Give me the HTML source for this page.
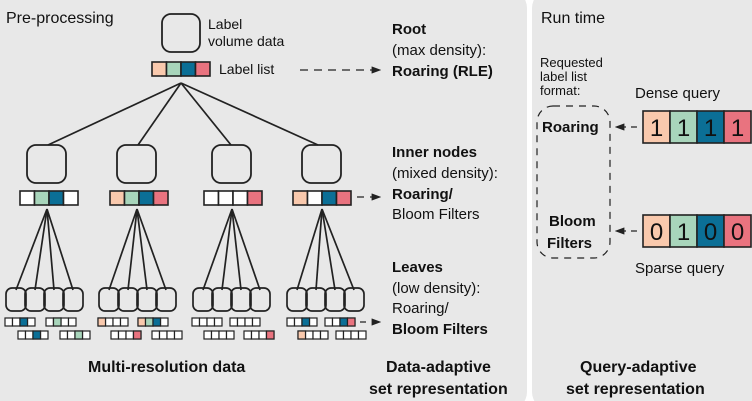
<!DOCTYPE html>
<html><head><meta charset="utf-8"><style>
html,body{margin:0;padding:0;background:#fff;}
svg{display:block;font-family:"Liberation Sans","DejaVu Sans",sans-serif;}
.t{font-size:15px;fill:#111;}
.b{font-weight:bold;}
</style></head><body>
<svg width="752" height="401" viewBox="0 0 752 401" xmlns="http://www.w3.org/2000/svg">
<defs>
<g id="leaf" fill="none" stroke="#222" stroke-width="1.7">
<rect x="0" y="0" width="20" height="23" rx="6"/>
<rect x="19" y="0" width="20" height="23" rx="6"/>
<rect x="38" y="0" width="20" height="23" rx="6"/>
<rect x="57" y="0" width="20" height="23" rx="6"/>
</g>
<g id="sb" fill="#fff" stroke="#222" stroke-width="1.2">
<rect x="0" y="0" width="7.5" height="8"/><rect x="7.5" y="0" width="7.5" height="8"/><rect x="15" y="0" width="7.5" height="8"/><rect x="22.5" y="0" width="7.5" height="8"/>
</g>
<marker id="ah" markerWidth="8" markerHeight="6" refX="7" refY="3" orient="auto"><path d="M0,0 L8,3 L0,6 z" fill="#222"/></marker>
</defs>
<rect x="-10" y="-10" width="537" height="420" rx="18" fill="#e8e8e8"/>
<rect x="532" y="-10" width="230" height="420" rx="18" fill="#e8e8e8"/>

<text x="6" y="23" class="t" style="font-size:16px">Pre-processing</text>
<text x="541" y="23" class="t" style="font-size:16px">Run time</text>

<rect x="162" y="14" width="38" height="38" rx="9" fill="none" stroke="#222" stroke-width="1.8"/>
<text x="208" y="29" class="t" style="font-size:14px">Label</text>
<text x="208" y="46" class="t" style="font-size:14px">volume data</text>
<g stroke="#222" stroke-width="1.6">
<rect x="152" y="62" width="14.5" height="14" fill="#f9c9ad"/><rect x="166.5" y="62" width="14.5" height="14" fill="#a8d5bb"/><rect x="181" y="62" width="14.5" height="14" fill="#0b6f96"/><rect x="195.5" y="62" width="14.5" height="14" fill="#e9737f"/>
</g>
<text x="219" y="74" class="t" style="font-size:14px">Label list</text>
<line x1="300" y1="70" x2="380" y2="70" stroke="#222" stroke-width="1.2" stroke-dasharray="8,6" marker-end="url(#ah)"/>

<g stroke="#222" stroke-width="1.7">
<line x1="181" y1="83" x2="48" y2="145"/><line x1="181" y1="83" x2="138" y2="145"/><line x1="181" y1="83" x2="231" y2="145"/><line x1="181" y1="83" x2="318" y2="145"/>
</g>
<g fill="none" stroke="#222" stroke-width="1.8">
<rect x="27" y="145" width="39" height="38" rx="9"/><rect x="117" y="145" width="39" height="38" rx="9"/><rect x="212" y="145" width="39" height="38" rx="9"/><rect x="302" y="145" width="39" height="38" rx="9"/>
</g>
<g stroke="#222" stroke-width="1.6">
<rect x="20" y="191" width="14.5" height="14" fill="#fff"/><rect x="34.5" y="191" width="14.5" height="14" fill="#a8d5bb"/><rect x="49" y="191" width="14.5" height="14" fill="#0b6f96"/><rect x="63.5" y="191" width="14.5" height="14" fill="#fff"/>
<rect x="110" y="191" width="14.5" height="14" fill="#f9c9ad"/><rect x="124.5" y="191" width="14.5" height="14" fill="#a8d5bb"/><rect x="139" y="191" width="14.5" height="14" fill="#0b6f96"/><rect x="153.5" y="191" width="14.5" height="14" fill="#e9737f"/>
<rect x="204" y="191" width="14.5" height="14" fill="#fff"/><rect x="218.5" y="191" width="14.5" height="14" fill="#fff"/><rect x="233" y="191" width="14.5" height="14" fill="#fff"/><rect x="247.5" y="191" width="14.5" height="14" fill="#e9737f"/>
<rect x="293" y="191" width="14.5" height="14" fill="#f9c9ad"/><rect x="307.5" y="191" width="14.5" height="14" fill="#fff"/><rect x="322" y="191" width="14.5" height="14" fill="#0b6f96"/><rect x="336.5" y="191" width="14.5" height="14" fill="#e9737f"/>
</g>
<line x1="357" y1="197" x2="380" y2="197" stroke="#222" stroke-width="1.2" stroke-dasharray="7,6" marker-end="url(#ah)"/>

<g stroke="#222" stroke-width="1.7">
<line x1="47" y1="209" x2="16" y2="290"/><line x1="47" y1="209" x2="35" y2="290"/><line x1="47" y1="209" x2="54" y2="290"/><line x1="47" y1="209" x2="73" y2="290"/>
<line x1="137" y1="209" x2="109" y2="290"/><line x1="137" y1="209" x2="128" y2="290"/><line x1="137" y1="209" x2="147" y2="290"/><line x1="137" y1="209" x2="166" y2="290"/>
<line x1="232" y1="209" x2="203" y2="290"/><line x1="232" y1="209" x2="222" y2="290"/><line x1="232" y1="209" x2="241" y2="290"/><line x1="232" y1="209" x2="260" y2="290"/>
<line x1="322" y1="209" x2="297" y2="290"/><line x1="322" y1="209" x2="316" y2="290"/><line x1="322" y1="209" x2="335" y2="290"/><line x1="322" y1="209" x2="354" y2="290"/>
</g>
<use href="#leaf" x="6" y="288"/><use href="#leaf" x="99" y="288"/><use href="#leaf" x="193" y="288"/><use href="#leaf" x="287" y="288"/>

<g>
<use href="#sb" x="5" y="318"/><use href="#sb" x="46" y="318"/><use href="#sb" x="18" y="331"/><use href="#sb" x="60" y="331"/>
<use href="#sb" x="98" y="318"/><use href="#sb" x="138" y="318"/><use href="#sb" x="111" y="331"/><use href="#sb" x="152" y="331"/>
<use href="#sb" x="192" y="318"/><use href="#sb" x="230" y="318"/><use href="#sb" x="204" y="331"/><use href="#sb" x="244" y="331"/>
<use href="#sb" x="287" y="318"/><use href="#sb" x="325" y="318"/><use href="#sb" x="298" y="331"/><use href="#sb" x="336" y="331"/>
</g>
<g stroke="#222" stroke-width="1.2">
<rect x="20" y="318" width="7.5" height="8" fill="#0b6f96"/>
<rect x="53.5" y="318" width="7.5" height="8" fill="#a8d5bb"/>
<rect x="33" y="331" width="7.5" height="8" fill="#0b6f96"/>
<rect x="75" y="331" width="7.5" height="8" fill="#a8d5bb"/>
<rect x="98" y="318" width="7.5" height="8" fill="#f9c9ad"/>
<rect x="138" y="318" width="7.5" height="8" fill="#f9c9ad"/><rect x="145.5" y="318" width="7.5" height="8" fill="#a8d5bb"/><rect x="153" y="318" width="7.5" height="8" fill="#0b6f96"/>
<rect x="133.5" y="331" width="7.5" height="8" fill="#e9737f"/>
<rect x="266.5" y="331" width="7.5" height="8" fill="#e9737f"/>
<rect x="302" y="318" width="7.5" height="8" fill="#0b6f96"/>
<rect x="340" y="318" width="7.5" height="8" fill="#0b6f96"/><rect x="347.5" y="318" width="7.5" height="8" fill="#e9737f"/>
<rect x="298" y="331" width="7.5" height="8" fill="#f9c9ad"/>
</g>
<line x1="360" y1="322" x2="380" y2="322" stroke="#222" stroke-width="1.2" stroke-dasharray="6,6" marker-end="url(#ah)"/>

<text x="392" y="34" class="t b">Root</text>
<text x="392" y="55" class="t">(max density):</text>
<text x="392" y="76" class="t b">Roaring (RLE)</text>
<text x="392" y="157" class="t b">Inner nodes</text>
<text x="392" y="178" class="t">(mixed density):</text>
<text x="392" y="199" class="t b">Roaring/</text>
<text x="392" y="219" class="t">Bloom Filters</text>
<text x="392" y="272" class="t b">Leaves</text>
<text x="392" y="293" class="t">(low density):</text>
<text x="392" y="313" class="t">Roaring/</text>
<text x="392" y="334" class="t b">Bloom Filters</text>

<text x="88" y="372" class="t b" style="font-size:16px">Multi-resolution data</text>
<text x="386" y="372" class="t b" style="font-size:16px">Data-adaptive</text>
<text x="369" y="394" class="t b" style="font-size:16px">set representation</text>
<text x="580" y="372" class="t b" style="font-size:16px">Query-adaptive</text>
<text x="566" y="394" class="t b" style="font-size:16px">set representation</text>

<text x="540" y="67" class="t" style="font-size:13px">Requested</text>
<text x="540" y="81" class="t" style="font-size:13px">label list</text>
<text x="540" y="95" class="t" style="font-size:13px">format:</text>
<rect x="537" y="106" width="73" height="152" rx="16" fill="none" stroke="#222" stroke-width="1.2" stroke-dasharray="7,6"/>
<text x="542" y="132" class="t b">Roaring</text>
<text x="549" y="226" class="t b">Bloom</text>
<text x="547" y="248" class="t b">Filters</text>
<text x="635" y="98" class="t">Dense query</text>
<text x="635" y="273" class="t">Sparse query</text>
<line x1="637" y1="127" x2="616" y2="127" stroke="#222" stroke-width="1.2" stroke-dasharray="6,5" marker-end="url(#ah)"/>
<line x1="637" y1="231" x2="616" y2="231" stroke="#222" stroke-width="1.2" stroke-dasharray="6,5" marker-end="url(#ah)"/>
<g stroke="#222" stroke-width="1.6">
<rect x="643" y="111" width="27" height="32" fill="#f9c9ad"/><rect x="670" y="111" width="27" height="32" fill="#a8d5bb"/><rect x="697" y="111" width="27" height="32" fill="#0b6f96"/><rect x="724" y="111" width="27" height="32" fill="#e9737f"/>
<rect x="643" y="215" width="27" height="32" fill="#f9c9ad"/><rect x="670" y="215" width="27" height="32" fill="#a8d5bb"/><rect x="697" y="215" width="27" height="32" fill="#0b6f96"/><rect x="724" y="215" width="27" height="32" fill="#e9737f"/>
</g>
<g class="t" style="font-size:24px" text-anchor="middle" fill="#222">
<text x="656.5" y="136">1</text><text x="683.5" y="136">1</text><text x="710.5" y="136">1</text><text x="737.5" y="136">1</text>
<text x="656.5" y="240">0</text><text x="683.5" y="240">1</text><text x="710.5" y="240">0</text><text x="737.5" y="240">0</text>
</g>
</svg>
</body></html>
